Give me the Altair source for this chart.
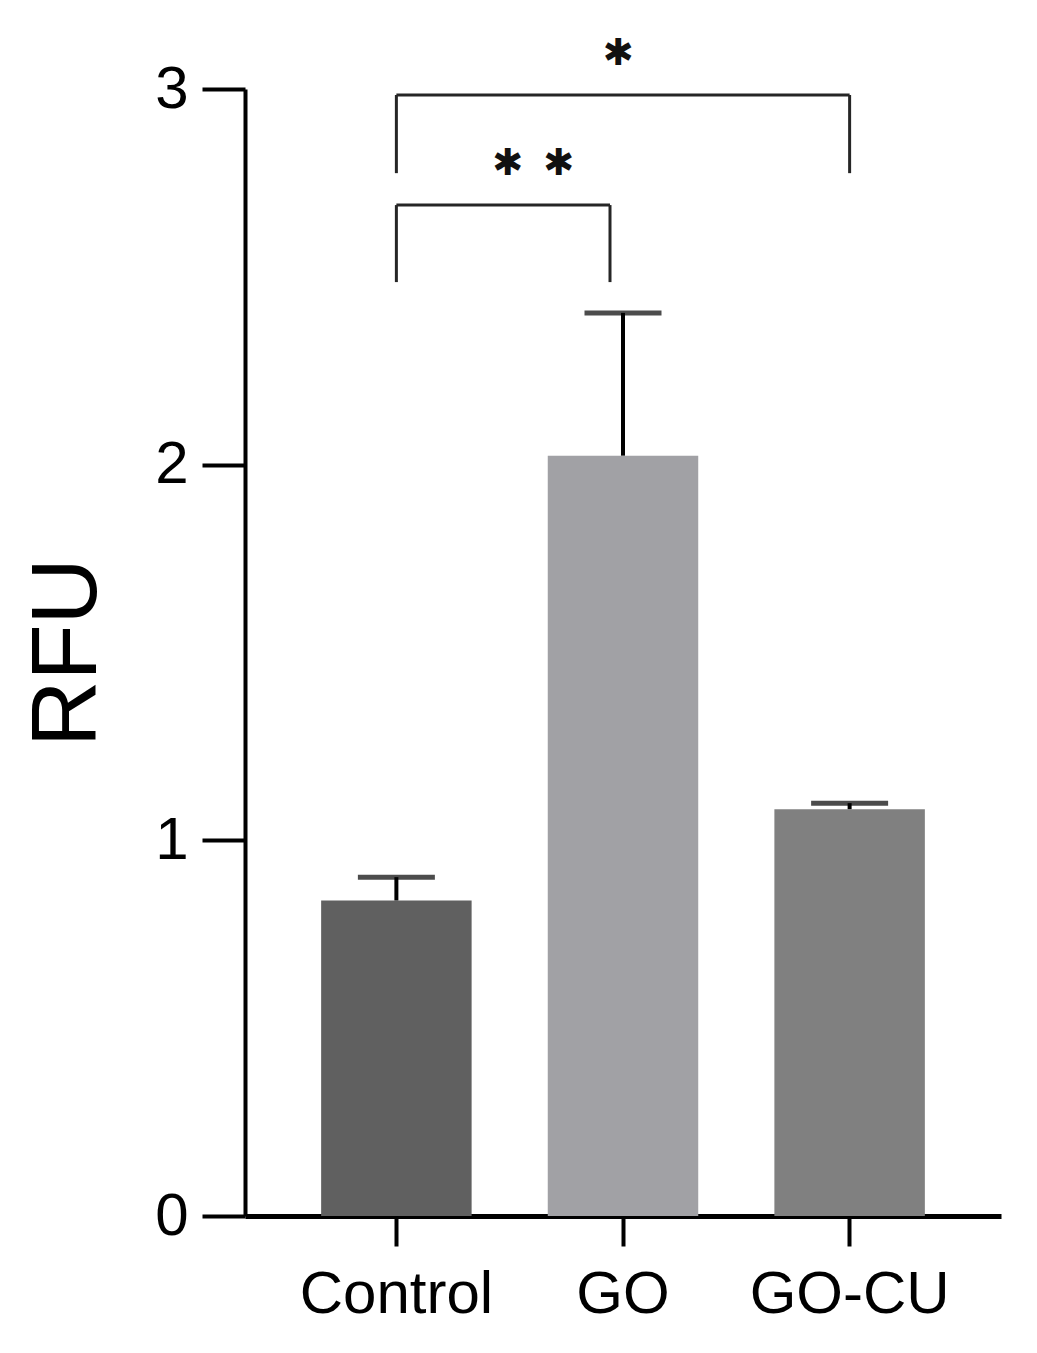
import altair as alt
import pandas as pd

# ---- data ----
groups = ["Control", "GO", "GO-CU"]
means = [0.84, 2.024, 1.083]
errors = [0.062, 0.38, 0.016]
bar_colors = ["#606060", "#a1a1a5", "#808080"]

# significance comparisons
cmp1 = {"left": "Control", "right": "GO-CU", "mid": "GO", "top": 2.984, "bottom": 2.776, "label": "✱", "label_y": 3.098}
cmp2 = {"left": "Control", "right": "GO", "top": 2.691, "bottom": 2.486, "label": "✱", "label_y": 2.805}

df = pd.DataFrame({"group": groups, "mean": means, "err": errors})
df["upper"] = df["mean"] + df["err"]

FONT = "Liberation Sans"

x_enc = alt.X("group:N", sort=groups,
              scale=alt.Scale(paddingInner=0.336, paddingOuter=0.336),
              axis=alt.Axis(title=None, labelAngle=0, labelFontSize=60, labelFont=FONT,
                            labelColor="black", labelPadding=19, labelLimit=0,
                            tickSize=30, tickWidth=4,
                            tickColor="black", domainWidth=5, domainColor="black", grid=False))
y_enc = alt.Y("mean:Q",
              scale=alt.Scale(domain=[0, 3], nice=False),
              axis=alt.Axis(values=[0, 1, 2, 3], format="d", title="RFU",
                            labelFontSize=60, labelFont=FONT, labelColor="black",
                            labelPadding=14, tickSize=43, tickWidth=4, tickColor="black",
                            domainWidth=4, domainColor="black", grid=False,
                            titleFont=FONT,
                            titleFontSize=92, titleFontWeight="normal", titleColor="black",
                            titleAngle=-90, titleX=-178, titleY=563,
                            titleAlign="center", titleBaseline="middle"))

base = alt.Chart(df)

bars = base.mark_bar().encode(
    x=x_enc,
    y=y_enc,
    color=alt.Color("group:N", sort=groups,
                    scale=alt.Scale(domain=groups, range=bar_colors), legend=None),
)

err_line = base.mark_rule(color="black", strokeWidth=4).encode(
    x=alt.X("group:N", sort=groups), y="mean:Q", y2="upper:Q")
err_cap = base.mark_tick(color="black", size=77, thickness=5).encode(
    x=alt.X("group:N", sort=groups), y="upper:Q")

layers = [bars, err_line, err_cap]

BR = "#262626"
def bracket(c, right_offset=0):
    d = pd.DataFrame([c])
    ch = alt.Chart(d)
    h = ch.mark_rule(color=BR, strokeWidth=3, x2Offset=right_offset).encode(
        x=alt.X("left:N", sort=groups), x2="right:N", y="top:Q")
    vl = ch.mark_rule(color=BR, strokeWidth=3).encode(
        x=alt.X("left:N", sort=groups), y="bottom:Q", y2="top:Q")
    vr = ch.mark_rule(color=BR, strokeWidth=3, xOffset=right_offset).encode(
        x=alt.X("right:N", sort=groups), y="bottom:Q", y2="top:Q")
    return [h, vl, vr]

layers += bracket(cmp1)
layers += bracket(cmp2, right_offset=-13)

d1 = pd.DataFrame([cmp1])
d2 = pd.DataFrame([cmp2])
star_style = dict(font="DejaVu Sans", fontSize=37, fontWeight="bold", color="#111111",
                  baseline="middle", align="center")
layers.append(alt.Chart(d1).mark_text(dx=-5, dy=2, **star_style).encode(
    x=alt.X("mid:N", sort=groups), y="label_y:Q", text="label:N"))
layers.append(alt.Chart(d2).mark_text(dx=111, dy=2, **star_style).encode(
    x=alt.X("left:N", sort=groups), y="label_y:Q", text="label:N"))
layers.append(alt.Chart(d2).mark_text(dx=162, dy=2, **star_style).encode(
    x=alt.X("left:N", sort=groups), y="label_y:Q", text="label:N"))

chart = alt.layer(*layers).properties(
    width=756, height=1127,
    background="white",
    autosize=alt.AutoSizeParams(type="none"),
    padding={"left": 237, "top": 81, "right": 20, "bottom": 140},
).configure_view(stroke=None)

chart.save("out.html", embed_options={"renderer": "svg", "actions": False})
